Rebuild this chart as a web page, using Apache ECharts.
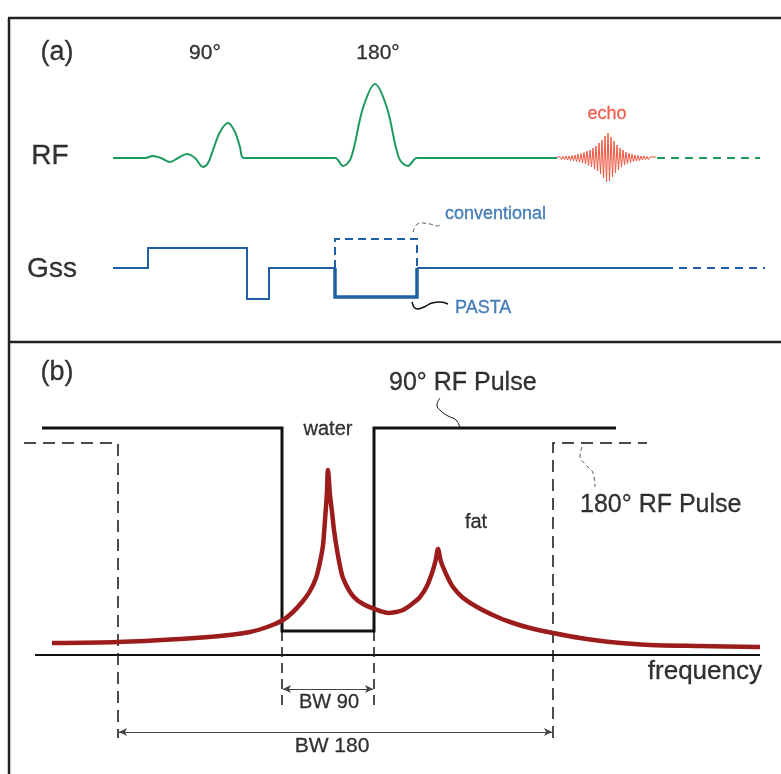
<!DOCTYPE html>
<html style="height: 100%">
<head>
<meta charset="utf-8">
<script src="https://cdn.jsdelivr.net/npm/echarts@6/dist/echarts.min.js"></script>
</head>
<body style="height: 100%; margin: 0; background: #fff">
<div id="container" style="width: 781px; height: 774px"></div>
<script type="text/javascript">
// ---- panel (a): pulse sequence ----
var frameLines = [
    [[8, 18], [781, 18]],
    [[9, 18], [9, 774]],
    [[8, 342], [781, 342]]
];
var rfWave = [[113,158],[145,158],[153,156],[161,158],[170,162],[178,158],[187,154],[195,158],[203,167],[208,163],
              [213,150],[220,132],[228,123],[235,132],[240,147],[244,158],[335,158],[343,166],[351,158],[363,108],
              [375,84],[387,108],[399,158],[408,166],[417,158],[557,158]];
var rfTail = [[657,158],[760,158]];
var echoStart = 557, echoStep = 1.5, echoBase = 158;
var echoAmp = [1,1,1,1.5,1.5,1.5,2,2,2,2.5,2.5,3,3,3.5,4,4,4.5,5,5.5,6,7,7.5,8,9,10,11,12,13,15,16,18,20,22,24,
               25,23,21,19,17,15,13,12,10,9,8,7,6,5.5,5,4.5,4,3.5,3,3,2.5,2.5,2,2,2,1.5,1.5,1.5,1,1,1,1,1];
var gssWave = [[113,268],[148,268],[148,248],[247,248],[247,299],[269,299],[269,268],[335,268]];
var gssAfter = [[417,268],[665,268]];
var gssTail = [[665,268],[765,268]];
var gssConventional = [[335,268],[335,239],[417,239],[417,268]];
var gssPasta = [[335,268],[335,297],[417,297],[417,268]];
var convLink = [[413,232],[420,223],[430,224],[437,226],[442,223]];
var pastaLink = [[412,302],[417,309],[424,307],[432,303],[440,302],[448,304]];

// ---- panel (b): frequency profiles ----
var pulse90 = [[42,428],[282,428],[282,631],[374,631],[374,428],[616,428]];
var pulse180Left = [[24,443],[118,443],[118,738]];
var pulse180Right = [[553,738],[553,443],[647,443]];
var bw90Marks = [[[282,631],[282,710]], [[374,631],[374,710]]];
var freqAxis = [[35,655],[760,655]];
var spectrum = [[52,643],[118,642],[180,639],[220,636],[250,632],[270,626],[283,620],[293,612],[303,601],[310,591],
                [316,578],[320,562],[323,545],[325,520],[326.8,495],[328,470],[330,495],[332,512],[334,530],[337,550],
                [340,566],[343,578],[350,592],[357,600],[365,605],[372,608],[380,611],[388,613],[396,612],[403,610],
                [412,604],[420,597],[427,586],[432,573],[435.5,561],[438,549],[440.5,560],[443,567],[448,578],[453,587],
                [462,597],[477,607],[495,616],[510,622],[530,628],[553,633],[580,638],[610,642],[650,645],[700,646],[760,647]];
var link90 = [[440,398],[437,405],[441,411],[448,416],[456,420],[460,428]];
var link180 = [[582,447],[580,456],[586,465],[593,473],[595,487]];
var bw90Arrow = [[283,689],[373,689]];
var bw180Arrow = [[119,732],[552,732]];

// text
var labelText = ['(a)','90°','180°','RF','Gss','echo','conventional','PASTA',
                 '(b)','90° RF Pulse','water','fat','180° RF Pulse','frequency','BW 90','BW 180'];
var labelAt = [[57,53],[205,53],[378,53],[50,156],[52,269],[607,114],[445,214],[455,308],
               [57,373],[389,383],[328,429],[476,522],[580,505],[762,672],[329,702],[332,746]];

var FONT = 'Liberation Sans, Arial, sans-serif';
var labelStyle = [
    {size:27, color:'#000', align:'center'},
    {size:21, color:'#000', align:'center'},
    {size:21, color:'#000', align:'center'},
    {size:28, color:'#000', align:'center'},
    {size:28, color:'#000', align:'center'},
    {size:18, color:'#ee3f2c', align:'center'},
    {size:18, color:'#1a5fa6', align:'left'},
    {size:18, color:'#1a5fa6', align:'left'},
    {size:27, color:'#000', align:'center'},
    {size:25, color:'#000', align:'left'},
    {size:20, color:'#000', align:'center'},
    {size:20, color:'#000', align:'center'},
    {size:25, color:'#000', align:'left'},
    {size:26, color:'#000', align:'right'},
    {size:20, color:'#000', align:'center'},
    {size:21, color:'#000', align:'center'}
];

var GREEN = '#1d9a5e', BLUE = '#1f5fa3', DARKRED = '#9c1c1c', BLACK = '#111';

function path(data, color, width, type, smooth, z) {
    return {
        type: 'line', data: data, symbol: 'none', silent: true, animation: false,
        smooth: smooth || false, z: z || 2,
        lineStyle: {color: color, width: width, type: type || 'solid', cap: 'butt', join: 'miter'}
    };
}

var echoData = echoAmp.map(function (a, i) {
    return [echoStart + i * echoStep, echoBase + (i % 2 === 0 ? -a : a)];
});

var series = [];
frameLines.forEach(function (seg) { series.push(path(seg, '#222', 2.5)); });
series.push(path(rfWave, GREEN, 2, 'solid', 0.35));
series.push(path(echoData, '#f0553f', 1, 'solid', false, 3));
series.push(path(rfTail, GREEN, 2, [8, 6]));
series.push(path(gssWave, BLUE, 2));
series.push(path(gssAfter, BLUE, 2));
series.push(path(gssTail, BLUE, 2, [8, 6]));
series.push(path(gssConventional, BLUE, 2, [8, 5]));
series.push(path(gssPasta, BLUE, 3.5, 'solid', false, 3));
series.push(path(convLink, '#555', 1, [4, 3], 0.5));
series.push(path(pastaLink, BLACK, 1.5, 'solid', 0.5));

series.push(path(pulse90, BLACK, 3));
series.push(path(pulse180Left, BLACK, 1.5, [12, 7]));
series.push(path(pulse180Right, BLACK, 1.5, [12, 7]));
bw90Marks.forEach(function (seg) { series.push(path(seg, BLACK, 1.5, [10, 6])); });
series.push(path(freqAxis, BLACK, 2));
series.push(path(spectrum, DARKRED, 4.5, 'solid', 0.3, 4));
series.push(path(link90, BLACK, 1, 'solid', 0.5));
series.push(path(link180, '#555', 1, [4, 3], 0.5));

// dimension arrows
series.push({
    type: 'line', data: [], symbol: 'none', silent: true, animation: false,
    markLine: {
        silent: true, animation: false, symbol: ['arrow', 'arrow'], symbolSize: [6, 8],
        label: {show: false},
        lineStyle: {color: '#444', width: 1, type: 'solid'},
        data: [
            [{coord: bw90Arrow[0]}, {coord: bw90Arrow[1]}],
            [{coord: bw180Arrow[0]}, {coord: bw180Arrow[1]}]
        ]
    }
});

// text labels
series.push({
    type: 'scatter', symbolSize: 1, silent: true, animation: false, z: 10,
    itemStyle: {color: 'rgba(0,0,0,0)'},
    data: labelText.map(function (t, i) {
        var s = labelStyle[i];
        return {
            value: labelAt[i],
            label: {
                show: true, position: 'inside', formatter: t,
                fontFamily: FONT, fontSize: s.size, color: s.color,
                textBorderColor: s.color, textBorderWidth: 0.3,
                align: s.align, verticalAlign: 'middle'
            }
        };
    })
});

var myChart = echarts.init(document.getElementById('container'));
var option = {
    backgroundColor: '#fff',
    animation: false,
    grid: {left: 0, right: 0, top: 0, bottom: 0},
    xAxis: {type: 'value', min: 0, max: 781, show: false},
    yAxis: {type: 'value', min: 0, max: 774, inverse: true, show: false},
    series: series
};
myChart.setOption(option);
</script>
</body>
</html>
